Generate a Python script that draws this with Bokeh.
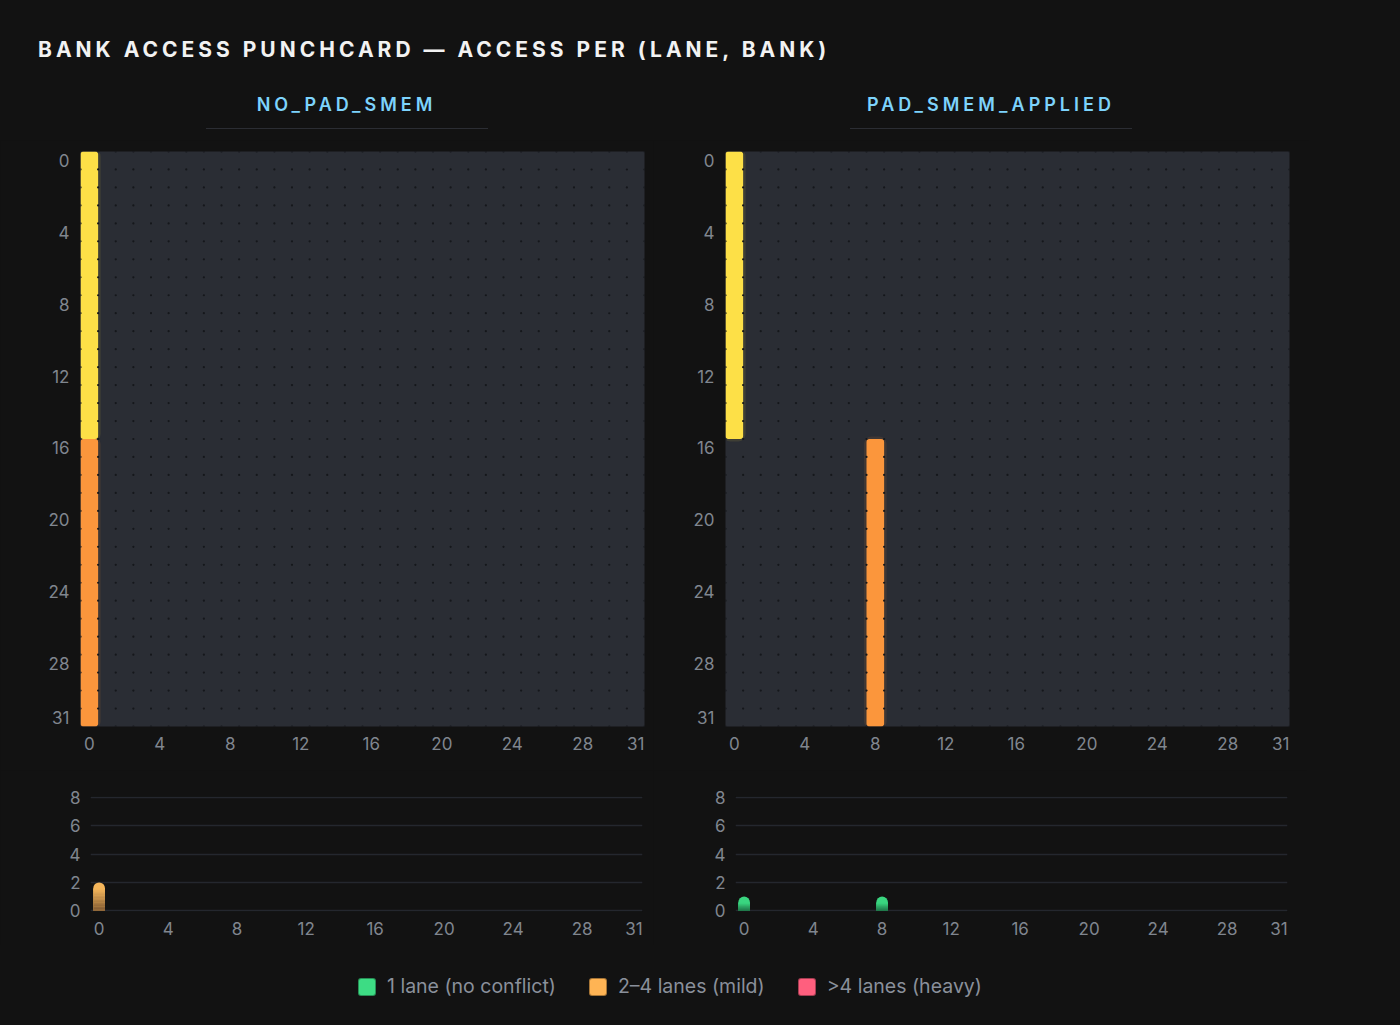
import numpy as np
from bokeh.plotting import figure
from bokeh.models import Div, Range1d, FixedTicker, ColumnDataSource
from bokeh.layouts import column, row
from bokeh.embed import file_html
from bokeh.resources import INLINE

# ---------------- data ----------------
TITLE = "BANK ACCESS PUNCHCARD — ACCESS PER (LANE, BANK)"
PANEL_TITLES = ["NO_PAD_SMEM", "PAD_SMEM_APPLIED"]
lanes = list(range(32))
bank_no_pad = [0] * 32                      # bank hit by each lane
bank_pad = [0] * 16 + [8] * 16
lane_phase = ["phase 0"] * 16 + ["phase 1"] * 16

banks = list(range(32))
lanes_per_bank_no_pad = [2] + [0] * 31
lanes_per_bank_pad = [1] + [0] * 7 + [1] + [0] * 23

TICKS_HEAT = [0, 4, 8, 12, 16, 20, 24, 28, 31]
TICKS_BAR_X = [0, 4, 8, 12, 16, 20, 24, 28, 31]
TICKS_BAR_Y = [0, 2, 4, 6, 8]
LEGEND_LABELS = ["1 lane (no conflict)", "2–4 lanes (mild)", ">4 lanes (heavy)"]

# ---------------- style ----------------
BG = "#121212"
PANEL = "#2a2d34"
DOT = "#15171b"
TICK = "#80868f"
FONT = "Inter"
PHASE_COLORS = {"phase 0": "#fde047", "phase 1": "#fb963c"}
CAT_TOP = ["#3ad680", "#f5b65b", "#ff5f7e"]
CAT_BOT = ["#1c6b41", "#7d5731", "#8a2c3e"]
LEGEND_COLORS = ["#3ddc84", "#ffb454", "#ff5f7e"]


def mix(c1, c2, t):
    a = [int(c1[i:i + 2], 16) for i in (1, 3, 5)]
    b = [int(c2[i:i + 2], 16) for i in (1, 3, 5)]
    return "#%02x%02x%02x" % tuple(int(round(a[k] + (b[k] - a[k]) * t)) for k in range(3))


def style_axes(p, xt, yt, xs, ys):
    for ax, tk, st in ((p.xaxis[0], xt, xs), (p.yaxis[0], yt, ys)):
        ax.ticker = FixedTicker(ticks=tk)
        ax.axis_line_color = None
        ax.major_tick_line_color = None
        ax.minor_tick_line_color = None
        ax.major_tick_out = 0
        ax.major_tick_in = 0
        ax.major_label_standoff = st
        ax.major_label_text_font = FONT
        ax.major_label_text_font_size = "17px"
        ax.major_label_text_color = TICK


def runs(bank_for_lane):
    """merge consecutive lanes hitting the same bank with the same phase"""
    out = []
    for ln, b, ph in zip(lanes, bank_for_lane, lane_phase):
        if out and out[-1][0] == b and out[-1][1] == ph and out[-1][3] == ln - 1:
            out[-1][3] = ln
        else:
            out.append([b, ph, ln, ln])
    return dict(left=[r[0] - 0.5 for r in out], right=[r[0] + 0.5 for r in out],
                top=[r[2] - 0.5 for r in out], bottom=[r[3] + 0.5 for r in out],
                c=[PHASE_COLORS[r[1]] for r in out])


def heatmap(bank_for_lane, left, right):
    p = figure(width=left + 564 + right, height=630,
               x_range=Range1d(-0.5, 31.5), y_range=Range1d(31.5, -0.5),
               output_backend="svg", toolbar_location=None,
               min_border_left=left, min_border_right=right,
               min_border_top=11, min_border_bottom=44)
    p.background_fill_color = PANEL
    p.border_fill_color = BG
    p.outline_line_color = None
    p.grid.visible = False
    src = ColumnDataSource(runs(bank_for_lane))
    p.quad(left="left", right="right", top="top", bottom="bottom", source=src,
           fill_color=None, line_color="c", line_width=5, line_alpha=0.1,
           border_radius=5)
    p.quad(left="left", right="right", top="top", bottom="bottom", source=src,
           fill_color="c", line_color=None, border_radius=3)
    gx, gy = np.meshgrid(np.arange(33) - 0.5, np.arange(33) - 0.5)
    p.scatter(gx.ravel(), gy.ravel(), size=2.2, fill_color=DOT, line_color=None)
    style_axes(p, TICKS_HEAT, TICKS_HEAT, 10, 11)
    return p


def category(v):
    return 0 if v == 1 else (1 if v <= 4 else 2)


def barchart(values, left, right):
    p = figure(width=left + 552 + right, height=175,
               x_range=Range1d(-0.5, 31.5), y_range=Range1d(-0.05, 8.05),
               output_backend="svg", toolbar_location=None,
               min_border_left=left, min_border_right=right,
               min_border_top=26, min_border_bottom=34)
    p.background_fill_color = BG
    p.border_fill_color = BG
    p.outline_line_color = None
    p.xgrid.visible = False
    p.ygrid.ticker = FixedTicker(ticks=TICKS_BAR_Y)
    p.ygrid.grid_line_color = "#24272e"
    p.ygrid.grid_line_width = 1.5
    xs = [b for b, v in zip(banks, values) if v > 0]
    vs = [v for v in values if v > 0]
    cats = [category(v) for v in vs]
    p.vbar(x=xs, top=vs, bottom=0, width=0.68,
           fill_color=[CAT_TOP[c] for c in cats], line_color=None,
           border_radius=(6, 6, 0, 0))
    n = 16
    sx, sb, st, sc = [], [], [], []
    for x, v, c in zip(xs, vs, cats):
        h = max(v - 0.45, 0.1)
        for i in range(n):
            sx.append(x)
            sb.append(h * i / n)
            st.append(h * (i + 1) / n + 0.02)
            sc.append(mix(CAT_BOT[c], CAT_TOP[c], (i + 0.5) / n))
    p.vbar(x=sx, top=st, bottom=sb, width=0.68, fill_color=sc, line_color=None)
    style_axes(p, TICKS_BAR_X, TICKS_BAR_Y, 10, 10)
    return p


title_div = Div(
    text=(f'<div style="width:1300px;padding:37px 0 0 38px;font-family:Inter;font-weight:700;'
          f'font-size:21px;line-height:26px;letter-spacing:4px;color:#f2f2f2;'
          f'white-space:nowrap;">{TITLE}</div>'),
    width=1400, height=70, margin=0)


def sub_div(txt, w):
    return Div(
        text=(f'<div style="width:{w}px;">'
              f'<div style="text-align:center;padding-top:24px;font-family:Inter;'
              f'font-weight:600;font-size:18px;line-height:22px;letter-spacing:4px;'
              f'color:#7dd3fc;white-space:nowrap;">{txt}</div>'
              f'<div style="width:282px;height:0;margin:12px auto 0;'
              f'border-top:1.5px solid #2b2d33;"></div></div>'),
        width=w, height=70, margin=0)


legend_items = "".join(
    f'<div style="display:flex;align-items:center;margin-right:33px;">'
    f'<span style="display:inline-block;width:18px;height:18px;border-radius:3px;'
    f'background:{c};border:1px solid rgba(0,0,0,0.35);margin-right:11px;"></span>'
    f'<span style="font-family:Inter;font-size:19.5px;color:#8a909b;white-space:nowrap;">{t}</span></div>'
    for c, t in zip(LEGEND_COLORS, LEGEND_LABELS))
legend_div = Div(
    text=(f'<div style="display:flex;align-items:center;padding-left:358px;'
          f'margin-top:31px;height:22px;width:1000px;">{legend_items}</div>'),
    width=1400, height=72, margin=0)

layout = column(
    title_div,
    row(sub_div(PANEL_TITLES[0], 693), sub_div(PANEL_TITLES[1], 596)),
    row(heatmap(bank_no_pad, 80, 9), heatmap(bank_pad, 72, 20)),
    row(barchart(lanes_per_bank_no_pad, 90, 11), barchart(lanes_per_bank_pad, 82, 20)),
    legend_div,
    styles={"background-color": BG},
)

html = file_html(layout, INLINE).replace(
    "</head>", "<style>html,body{background:#121212;margin:0;padding:0;}</style></head>", 1)
open("out.html", "w").write(html)
